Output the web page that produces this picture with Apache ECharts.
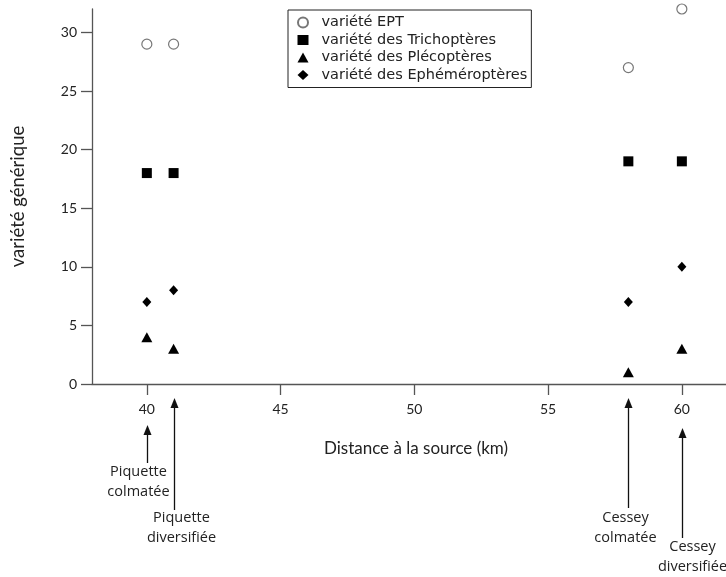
<!DOCTYPE html>
<html><head><meta charset="utf-8">
<script src="https://cdn.jsdelivr.net/npm/echarts@6/dist/echarts.min.js"></script>
<style>html,body{margin:0;padding:0;background:#fff}#c{width:726px;height:577px}</style>
</head><body><div id="c"></div>
<script>
const xTicks = [40, 45, 50, 55, 60];
const yTicks = [0, 5, 10, 15, 20, 25, 30];
const distances = [40, 41, 58, 60];
const ept = [29, 29, 27, 32];
const trich = [18, 18, 19, 19];
const pleco = [4, 3, 1, 3];
const ephem = [7, 8, 7, 10];
const seriesNames = ['variété EPT', 'variété des Trichoptères', 'variété des Plécoptères', 'variété des Ephéméroptères'];
const siteNames = ['Piquette\ncolmatée', 'Piquette\ndiversifiée', 'Cessey\ncolmatée', 'Cessey\ndiversifiée'];

// annotation layout (pixels)
const arrowTop = [425, 398, 398, 428];
const arrowBottom = [463, 510, 508, 538];
const textDx = [-9, 7, -3, 10];
const textTop = [462, 508, 508, 537];

const chart = echarts.init(document.getElementById('c'));
const pts = v => distances.map((d, i) => [d, v[i]]);
const FONT = 'Lato';

chart.setOption({
  animation: false,
  backgroundColor: '#fff',
  grid: { left: 92, right: 0, top: 9, bottom: 193, containLabel: false, outerBoundsMode: 'none' },
  xAxis: {
    type: 'value', min: 37.95, max: 61.65,
    name: 'Distance à la source (km)', nameLocation: 'middle', nameGap: 56,
    nameTextStyle: { fontFamily: FONT, fontSize: 17, color: '#222', padding: [0, 0, 0, 14] },
    axisLine: { lineStyle: { color: '#555', width: 1.3 } },
    axisTick: { show: true, length: 11, customValues: xTicks, lineStyle: { color: '#555', width: 1.3 } },
    axisLabel: { customValues: xTicks, margin: 18, fontFamily: FONT, fontSize: 14, color: '#222' },
    splitLine: { show: false }
  },
  yAxis: {
    type: 'value', min: 0, max: 32,
    name: 'variété générique', nameLocation: 'middle', nameGap: 64,
    nameTextStyle: { fontFamily: FONT, fontSize: 18.5, color: '#222' },
    axisLine: { show: true, lineStyle: { color: '#555', width: 1.3 } },
    axisTick: { show: true, length: 11, customValues: yTicks, lineStyle: { color: '#555', width: 1.3 } },
    axisLabel: { customValues: yTicks, margin: 15, fontFamily: FONT, fontSize: 14, color: '#222' },
    splitLine: { show: false }
  },
  legend: {
    orient: 'vertical', left: 288, top: 10,
    borderColor: '#222', borderWidth: 1, padding: [5, 4, 5, 9],
    itemGap: 2.5, itemWidth: 11, itemHeight: 10,
    textStyle: { fontFamily: 'DejaVu Sans', fontSize: 14.5, color: '#222', padding: [0, 0, 0, 8] },
    data: seriesNames
  },
  series: [
    { name: seriesNames[0], type: 'scatter', symbol: 'circle', symbolSize: 10, data: pts(ept),
      itemStyle: { color: '#fff', borderColor: '#777', borderWidth: 1.2, opacity: 1 } },
    { name: seriesNames[1], type: 'scatter', symbol: 'rect', symbolSize: 10, data: pts(trich),
      itemStyle: { color: '#000', opacity: 1 } },
    { name: seriesNames[2], type: 'scatter', symbol: 'triangle', symbolSize: [11, 10], data: pts(pleco),
      itemStyle: { color: '#000', opacity: 1 } },
    { name: seriesNames[3], type: 'scatter', symbol: 'diamond', symbolSize: [9, 10], data: pts(ephem),
      itemStyle: { color: '#000', opacity: 1 } }
  ]
});

const graphics = [];
distances.forEach((d, i) => {
  const x = Math.round(chart.convertToPixel({ xAxisIndex: 0 }, d)) + 0.5;
  graphics.push({ type: 'line', shape: { x1: x, y1: arrowTop[i] + 8, x2: x, y2: arrowBottom[i] },
    style: { stroke: '#111', lineWidth: 1.3 } });
  graphics.push({ type: 'polygon', shape: { points: [[x, arrowTop[i]], [x - 4, arrowTop[i] + 10], [x + 4, arrowTop[i] + 10]] },
    style: { fill: '#111' } });
  graphics.push({ type: 'text', x: x + textDx[i], y: textTop[i],
    style: { text: siteNames[i], fontFamily: 'Open Sans', fontSize: 14.5, lineHeight: 20, fill: '#222', align: 'center', verticalAlign: 'top' } });
});
chart.setOption({ graphic: graphics });
</script></body></html>
